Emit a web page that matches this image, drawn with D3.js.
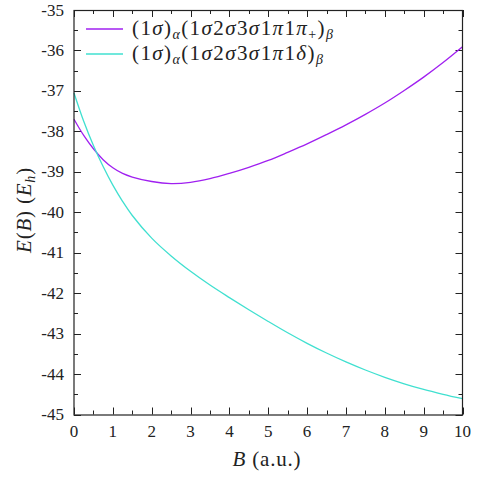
<!DOCTYPE html>
<html>
<head>
<meta charset="utf-8">
<script src="https://cdn.jsdelivr.net/npm/d3@7"></script>
<style>
  html, body { margin: 0; padding: 0; background: #fff; }
</style>
</head>
<body>
<div id="chart"></div>
<script>
// values
var bValues = [0, 0.25, 0.5, 0.75, 1, 1.25, 1.5, 2, 2.5, 3, 3.5, 4, 4.5, 5, 5.5, 6, 6.5, 7, 7.5, 8, 8.5, 9, 9.5, 10];
var piPlus  = [-37.70, -38.10, -38.43, -38.70, -38.90, -39.04, -39.13, -39.24, -39.29, -39.26, -39.17, -39.04, -38.89, -38.72, -38.52, -38.31, -38.08, -37.84, -37.58, -37.30, -36.99, -36.66, -36.30, -35.91];
var delta   = [-37.05, -37.75, -38.35, -38.87, -39.33, -39.73, -40.08, -40.64, -41.08, -41.46, -41.80, -42.11, -42.41, -42.70, -42.98, -43.24, -43.48, -43.70, -43.90, -44.08, -44.24, -44.38, -44.50, -44.61];
var xTicks = [0, 1, 2, 3, 4, 5, 6, 7, 8, 9, 10];
var yTicks = [-35, -36, -37, -38, -39, -40, -41, -42, -43, -44, -45];

var drawChart = function() {
    const width = 478, height = 478;
    const left = 74, right = 462.5, top = 10, bottom = 414.5;
    const purple = "#a020f0", turquoise = "#40e0d0";
    const axisColor = "#222";
    const serif = "'Liberation Serif', 'DejaVu Serif', serif";

    var svg = d3.select("#chart").append("svg")
        .attr("width", width)
        .attr("height", height)
        .attr("font-family", serif);

    var x = d3.scaleLinear().domain([0, 10]).range([left, right]);
    var y = d3.scaleLinear().domain([-45, -35]).range([bottom, top]);

    // ticks on all four sides, pointing in
    var minorX = d3.range(0.5, 10, 1);
    var minorY = d3.range(-44.5, -35, 1);
    var tickG = svg.append("g").attr("stroke", axisColor).attr("stroke-width", 1);
    xTicks.concat(minorX).forEach(function(v) {
        var len = Number.isInteger(v) ? 7 : 4;
        var px = Math.round(x(v)) + 0.5;
        tickG.append("line").attr("x1", px).attr("x2", px).attr("y1", bottom).attr("y2", bottom - len);
        tickG.append("line").attr("x1", px).attr("x2", px).attr("y1", top).attr("y2", top + len);
    });
    yTicks.concat(minorY).forEach(function(v) {
        var len = Number.isInteger(v) ? 7 : 4;
        var py = Math.round(y(v)) + 0.5;
        tickG.append("line").attr("y1", py).attr("y2", py).attr("x1", left).attr("x2", left + len);
        tickG.append("line").attr("y1", py).attr("y2", py).attr("x1", right).attr("x2", right - len);
    });

    // tick labels
    svg.append("g").selectAll("text").data(xTicks).enter().append("text")
        .attr("x", function(d) { return x(d); })
        .attr("y", 437)
        .attr("text-anchor", "middle")
        .attr("font-family", serif)
        .attr("font-size", 17)
        .attr("fill", "#222")
        .text(function(d) { return d; });
    svg.append("g").selectAll("text").data(yTicks).enter().append("text")
        .attr("x", 64)
        .attr("y", function(d) { return y(d) + 5.5; })
        .attr("text-anchor", "end")
        .attr("font-family", serif)
        .attr("font-size", 17)
        .attr("fill", "#222")
        .text(function(d) { return d; });

    // curves
    var line = d3.line()
        .x(function(d, i) { return x(bValues[i]); })
        .y(function(d) { return y(d); })
        .curve(d3.curveCatmullRom.alpha(0.5));

    svg.append("path").datum(piPlus)
        .attr("d", line).attr("fill", "none")
        .attr("stroke", purple).attr("stroke-width", 1.3);
    svg.append("path").datum(delta)
        .attr("d", line).attr("fill", "none")
        .attr("stroke", turquoise).attr("stroke-width", 1.3);

    // frame
    svg.append("rect")
        .attr("x", left).attr("y", top + 0.5)
        .attr("width", right - left).attr("height", bottom - top)
        .attr("fill", "none").attr("stroke", axisColor).attr("stroke-width", 1.2);

    // legend
    var legend = [
        { color: purple, last: [["π", "i"], ["+", "sub"]] },
        { color: turquoise, last: [["δ", "i"]] }
    ];
    legend.forEach(function(item, i) {
        var ly = 29 + i * 25;
        svg.append("line").attr("x1", 86).attr("x2", 123).attr("y1", ly).attr("y2", ly)
            .attr("stroke", item.color).attr("stroke-width", 1.3);
        var t = svg.append("text").attr("x", 132).attr("y", ly + 6)
            .attr("font-family", serif).attr("font-size", 21)
            .attr("letter-spacing", 1.4).attr("fill", "#222");
        var parts = [["(1", ""], ["σ", "i"], [")", ""], ["α", "subi"],
                     ["(1", ""], ["σ", "i"], ["2", ""], ["σ", "i"], ["3", ""], ["σ", "i"],
                     ["1", ""], ["π", "i"], ["1", ""]]
                     .concat(item.last).concat([[")", ""], ["β", "subi"]]);
        var prevSub = false;
        parts.forEach(function(p) {
            var s = t.append("tspan").text(p[0]);
            var isSub = p[1] === "sub" || p[1] === "subi";
            if (p[1] === "i" || p[1] === "subi") s.attr("font-style", "italic");
            if (isSub) s.attr("font-size", 14);
            s.attr("dy", isSub && !prevSub ? 4 : (!isSub && prevSub ? -4 : 0));
            prevSub = isSub;
        });
    });

    // axis titles
    var xt = svg.append("text").attr("x", 267).attr("y", 466)
        .attr("text-anchor", "middle").attr("font-family", serif)
        .attr("font-size", 21).attr("letter-spacing", 0.8).attr("fill", "#222");
    xt.append("tspan").attr("font-style", "italic").text("B");
    xt.append("tspan").text(" (a.u.)");

    var yt = svg.append("text")
        .attr("transform", "translate(31,210) rotate(-90)")
        .attr("text-anchor", "middle").attr("font-family", serif)
        .attr("font-size", 21).attr("letter-spacing", 0.8).attr("fill", "#222");
    yt.append("tspan").attr("font-style", "italic").text("E");
    yt.append("tspan").text("(");
    yt.append("tspan").attr("font-style", "italic").text("B");
    yt.append("tspan").text(") (");
    yt.append("tspan").attr("font-style", "italic").text("E");
    yt.append("tspan").attr("font-style", "italic").attr("font-size", 14).attr("dy", 4).text("h");
    yt.append("tspan").attr("dy", -4).text(")");
};

window.addEventListener("load", drawChart);
</script>
</body>
</html>
